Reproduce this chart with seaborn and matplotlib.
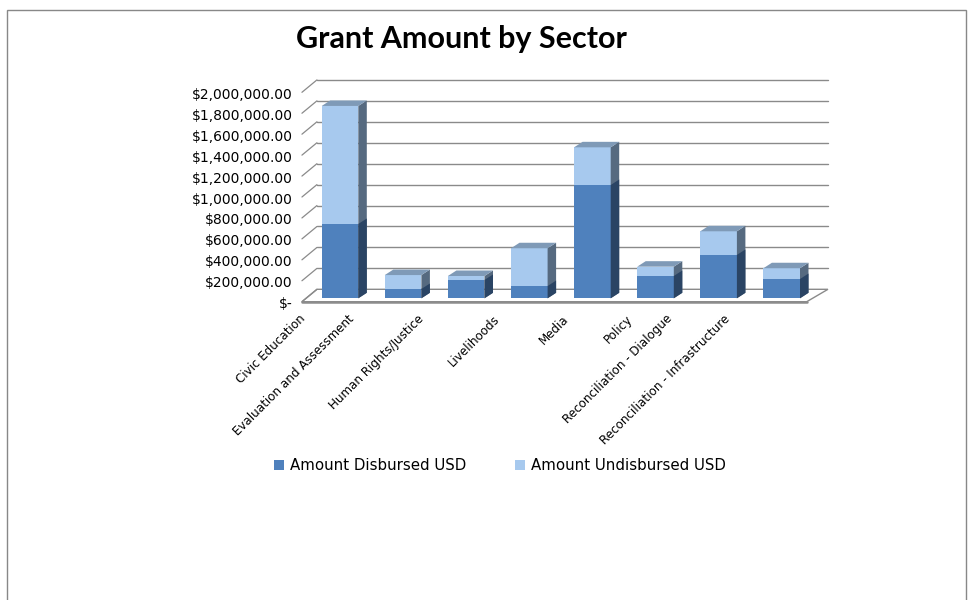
import numpy as np
import pandas as pd
import matplotlib
matplotlib.use("Agg")
import matplotlib.pyplot as plt
import matplotlib.transforms as mtransforms
from matplotlib.patches import Polygon, Rectangle, Patch
from matplotlib.lines import Line2D
from matplotlib.font_manager import FontProperties
import seaborn as sns

# ---------------- data ----------------
categories = ["Civic Education", "Evaluation and Assessment", "Human Rights/Justice",
              "Livelihoods", "Media", "Policy", "Reconciliation - Dialogue",
              "Reconciliation - Infrastructure"]
disbursed = [710000, 89000, 175000, 117000, 1082000, 213000, 414000, 184000]
undisbursed = [1127000, 133000, 38000, 361000, 360000, 89000, 226000, 103000]
y_ticks = [0, 200000, 400000, 600000, 800000, 1000000, 1200000, 1400000,
           1600000, 1800000, 2000000]
series_names = ["Amount Disbursed USD", "Amount Undisbursed USD"]
title = "Grant Amount by Sector"

# ---------------- style ----------------
W, H = 971, 600
DARK = "#4F81BD"
LIGHT = "#A7C9EE"
DARK_SIDE = "#2A4464"
LIGHT_SIDE = "#566A80"
LIGHT_TOP = "#7F9AB7"
GRID = "#8A8A8A"

sns.set_style("white")
plt.rcParams["font.family"] = ["DejaVu Sans"]
plt.rcParams["text.color"] = "black"

fig = plt.figure(figsize=(W / 100, H / 100), dpi=100)
ax = fig.add_axes([308.45 / W, 1 - 298.3 / H, 504.8 / W, 209.4 / H])

df = pd.DataFrame({"Sector": categories, "Disbursed": disbursed, "Undisbursed": undisbursed})
df["Total"] = df["Disbursed"] + df["Undisbursed"]

sns.barplot(data=df, x="Sector", y="Total", color=LIGHT, saturation=1, width=0.58,
            linewidth=0, ax=ax, zorder=5)
n_light = len(ax.patches)
sns.barplot(data=df, x="Sector", y="Disbursed", color=DARK, saturation=1, width=0.58,
            linewidth=0, ax=ax, zorder=6)
light_bars = ax.patches[:n_light]
dark_bars = ax.patches[n_light:]

XL, XR = -0.5, len(categories) - 0.5
ax.set_xlim(XL, XR)
ax.set_ylim(0, 2_000_000)
ax.set_autoscale_on(False)
ax.axis("off")

ID = mtransforms.IdentityTransform()


def D(x, y, off=(0.0, 0.0)):
    px, py = ax.transData.transform((x, y))
    return (px + off[0], py + off[1])


FRONT = (-6.5, -3.4)


def BACK(x):
    return (8.5 + (x - XL) / (XR - XL) * 6.2, 9.0)


BAR_D = (8.5, 5.5)

# floor
floor = [D(XL, 0, FRONT), D(XR, 0, FRONT), D(XR, 0, BACK(XR)), D(XL, 0, BACK(XL))]
ax.add_patch(Polygon(floor, closed=True, transform=ID, clip_on=False, fc="white",
                     ec=GRID, lw=1.0, zorder=1))
fx = [floor[0][0], floor[1][0]]
fy = [floor[0][1], floor[1][1]]
ax.add_line(Line2D(fx, fy, transform=ID, color="#8C8C8C", lw=1.8, clip_on=False, zorder=1.5))

# back wall gridlines and left diagonals
for v in y_ticks:
    b0 = D(XL, v, BACK(XL))
    b1 = D(XR, v, BACK(XR))
    f0 = D(XL, v, FRONT)
    if v > 0:
        ax.add_line(Line2D([b0[0], b1[0]], [b0[1], b1[1]], transform=ID, color=GRID,
                           lw=1.0, clip_on=False, zorder=2))
    ax.add_line(Line2D([f0[0], b0[0]], [f0[1], b0[1]], transform=ID, color=GRID,
                       lw=0.9, clip_on=False, zorder=2))
    lab = "$-" if v == 0 else "${:,.2f}".format(v)
    ax.text(f0[0] - 9, f0[1] - 2.5, lab, transform=ID, ha="right", va="center",
            fontsize=10, color="black", clip_on=False)


# 3D faces for bars
def side(p, color, z):
    x1 = p.get_x() + p.get_width()
    y0 = p.get_y()
    y1 = y0 + p.get_height()
    verts = [D(x1, y0), D(x1, y1), D(x1, y1, BAR_D), D(x1, y0, BAR_D)]
    ax.add_patch(Polygon(verts, closed=True, transform=ID, clip_on=False, fc=color,
                         ec="none", zorder=z))


def top(p, color, z):
    x0 = p.get_x()
    x1 = x0 + p.get_width()
    y1 = p.get_y() + p.get_height()
    verts = [D(x0, y1), D(x1, y1), D(x1, y1, BAR_D), D(x0, y1, BAR_D)]
    ax.add_patch(Polygon(verts, closed=True, transform=ID, clip_on=False, fc=color,
                         ec="none", zorder=z))


for p in light_bars:
    side(p, LIGHT_SIDE, 5)
    top(p, LIGHT_TOP, 5)
for p in dark_bars:
    side(p, DARK_SIDE, 6)

# category labels
renderer = fig.canvas.get_renderer()
cat_fp = FontProperties(family="DejaVu Sans", size=8.6)
for i, name in enumerate(categories):
    w, h, d = renderer.get_text_width_height_descent(name, cat_fp, ismath=False)
    cx, cy = D(i, 0, FRONT)
    ax.text(cx - (12 + 0.2 * w), H - 317, name, transform=ID, rotation=45,
            rotation_mode="anchor", ha="right", va="center", fontproperties=cat_fp,
            color="black", clip_on=False)

# legend
handles = [Patch(facecolor=DARK, edgecolor="none", label=series_names[0]),
           Patch(facecolor=LIGHT, edgecolor="none", label=series_names[1])]
fig.legend(handles=handles, loc="center", bbox_to_anchor=(500 / W, 1 - 466 / H), ncol=2,
           frameon=False, handlelength=0.67, handleheight=0.67, handletextpad=0.4,
           columnspacing=3.2, fontsize=10.8, labelcolor="black")

# title
fig.text(461.5 / W, 1 - 48 / H, title, ha="center", va="baseline", fontsize=22,
         fontweight="bold", family=["Lato", "DejaVu Sans"], color="black")

# chart border
fig.add_artist(Rectangle((7 / W, -0.01), (966 - 7) / W, (600 - 10) / H + 0.01,
                         transform=fig.transFigure, fill=False, ec="#888888", lw=1))

ax.set_xlim(XL, XR)
ax.set_ylim(0, 2_000_000)
fig.savefig("out.png", dpi=100)
